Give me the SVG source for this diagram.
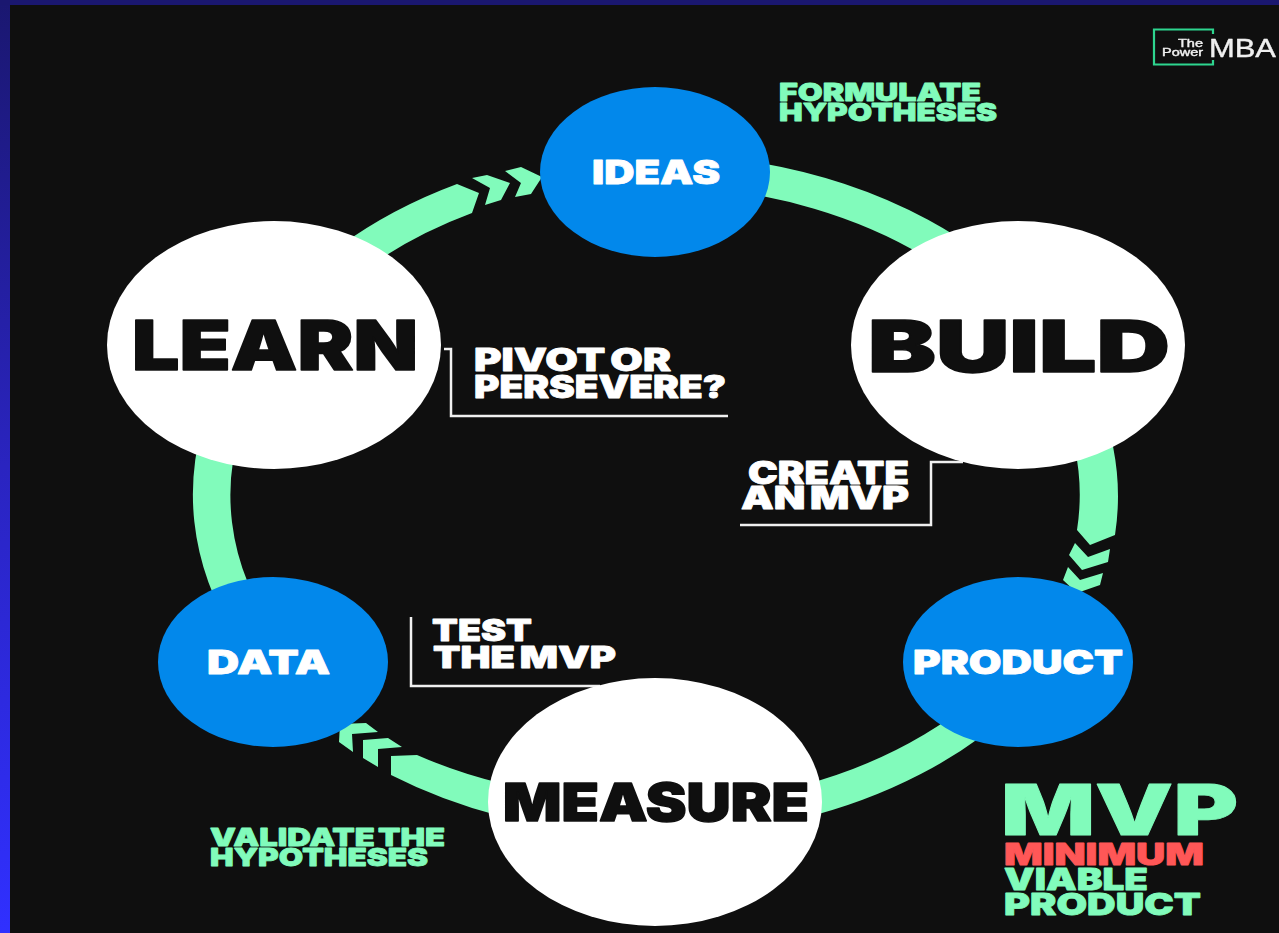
<svg xmlns="http://www.w3.org/2000/svg" width="1279" height="933" viewBox="0 0 1279 933">
<defs>
<linearGradient id="edge" x1="0" y1="0" x2="0" y2="1"><stop offset="0" stop-color="#1a1770"/><stop offset="0.5" stop-color="#2a24c0"/><stop offset="1" stop-color="#3030ff"/></linearGradient>
<filter id="soft" x="-5%" y="-5%" width="110%" height="110%"><feGaussianBlur stdDeviation="0.5"/></filter>
</defs>
<style>
text{font-family:"Inter","Liberation Sans",sans-serif;font-weight:900;stroke-linejoin:round}
.g{fill:#81fbbb;stroke:#81fbbb;stroke-width:.8}
.w{fill:#fff;stroke:#fff;stroke-width:.8}
.k{fill:#0f0f0f;stroke:#0f0f0f;stroke-width:1.5}
.r{fill:#ff5757;stroke:#ff5757;stroke-width:.8}
.tight{word-spacing:-2.5px}
.blue{fill:#0288eb}
.white{fill:#fff}
.seg{fill:#81fbbb}
.rule{fill:none;stroke:#f0f0f0;stroke-width:2.5}
.lg{font-family:"Liberation Sans",sans-serif;font-weight:400;fill:#f0f0f0;stroke:#f0f0f0;stroke-width:.4}
</style>
<rect width="1279" height="933" fill="url(#edge)"/>
<rect x="0" y="0" width="1279" height="5" fill="#1a1770"/>
<rect x="10" y="5" width="1269" height="928" fill="#0f0f0f"/>

<g id="connectors">
<path class="seg" d="M655,154A462,341 0 0 1 1000,268L950,273A425,309 0 0 0 655,186Z"/>
<path class="seg" d="M1099,400A462,341 0 0 1 1115,535L1090,545L1077,530A425,309 0 0 0 1059,400Z"/>
<polygon class="seg" points="1075,543 1088,557 1110,549 1108,562 1082,570 1069,555"/>
<polygon class="seg" points="1068,567 1080,580 1103,573 1100,585 1077,593 1063,580"/>
<path class="seg" d="M1018,706A462,341 0 0 1 800,819L800,786A425,309 0 0 0 1018,656Z"/>
<path class="seg" d="M500,816A462,341 0 0 1 391,775L391,756L417,755A425,309 0 0 0 500,783Z"/>
<polygon class="seg" points="363,740 388,738 402,747 378,749 378,767 363,758"/>
<polygon class="seg" points="340,724 366,723 378,732 352,734 353,752 339,742"/>
<path class="seg" d="M237,640A462,341 0 0 1 211,400L251,400A425,309 0 0 0 280,640Z"/>
<path class="seg" d="M340,246A462,341 0 0 1 457,184L479,193L472,213A425,309 0 0 0 370,266Z"/>
<polygon class="seg" points="472,178 487,175 510,183 501,200 485,205 490,188"/>
<polygon class="seg" points="505,171 521,167 542,177 531,194 515,197 521,183"/>
<path class="rule" d="M963,462H931V525H740"/>
<path class="rule" d="M444,349H451V416H728"/>
<path class="rule" d="M411,617V686H600"/>
</g>

<g id="node-ideas"><ellipse class="blue" cx="655" cy="172" rx="115" ry="85"/><text class="w" x="592" y="184" font-size="33" textLength="128" lengthAdjust="spacingAndGlyphs">IDEAS</text></g>
<g id="node-build"><ellipse class="white" cx="1018" cy="345" rx="167" ry="124"/><text class="k" x="868" y="372" font-size="72" textLength="302" lengthAdjust="spacingAndGlyphs">BUILD</text></g>
<g id="node-product"><ellipse class="blue" cx="1018" cy="662" rx="115" ry="85"/><text class="w" x="913" y="674" font-size="33" textLength="210" lengthAdjust="spacingAndGlyphs">PRODUCT</text></g>
<g id="node-measure"><ellipse class="white" cx="655" cy="802" rx="167" ry="124"/><text class="k" x="503" y="821" font-size="52" textLength="306" lengthAdjust="spacingAndGlyphs">MEASURE</text></g>
<g id="node-data"><ellipse class="blue" cx="273" cy="662" rx="115" ry="85"/><text class="w" x="207" y="674" font-size="33" textLength="123" lengthAdjust="spacingAndGlyphs">DATA</text></g>
<g id="node-learn"><ellipse class="white" cx="274" cy="345" rx="167" ry="124"/><text class="k" x="132" y="370" font-size="69" textLength="286" lengthAdjust="spacingAndGlyphs">LEARN</text></g>

<g id="label-formulate">
<text class="g" x="779" y="101" font-size="25" textLength="202" lengthAdjust="spacingAndGlyphs">FORMULATE</text>
<text class="g" x="779" y="121" font-size="25" textLength="218" lengthAdjust="spacingAndGlyphs">HYPOTHESES</text>
</g>
<g id="label-pivot">
<text class="w tight" x="474" y="371" font-size="31" textLength="197" lengthAdjust="spacingAndGlyphs">PIVOT OR</text>
<text class="w" x="474" y="398" font-size="31" textLength="252" lengthAdjust="spacingAndGlyphs">PERSEVERE?</text>
</g>
<g id="label-create">
<text class="w" x="748" y="484" font-size="31" textLength="161" lengthAdjust="spacingAndGlyphs">CREATE</text>
<text class="w tight" x="741" y="509" font-size="31" textLength="168" lengthAdjust="spacingAndGlyphs">AN MVP</text>
</g>
<g id="label-test">
<text class="w" x="432" y="641" font-size="30" textLength="100" lengthAdjust="spacingAndGlyphs">TEST</text>
<text class="w tight" x="433" y="668" font-size="30" textLength="183" lengthAdjust="spacingAndGlyphs">THE MVP</text>
</g>
<g id="label-validate">
<text class="g tight" x="210" y="846" font-size="25" textLength="235" lengthAdjust="spacingAndGlyphs">VALIDATE THE</text>
<text class="g" x="210" y="866" font-size="25" textLength="218" lengthAdjust="spacingAndGlyphs">HYPOTHESES</text>
</g>
<g id="label-mvp">
<text class="g" x="1001" y="835" font-size="70" textLength="237" lengthAdjust="spacingAndGlyphs">MVP</text>
<text class="r" x="1004" y="865" font-size="30" textLength="200" lengthAdjust="spacingAndGlyphs">MINIMUM</text>
<text class="g" x="1004" y="890" font-size="30" textLength="144" lengthAdjust="spacingAndGlyphs">VIABLE</text>
<text class="g" x="1004" y="915" font-size="30" textLength="197" lengthAdjust="spacingAndGlyphs">PRODUCT</text>
</g>
<g id="logo" filter="url(#soft)">
<path d="M1213,34V29.500H1154V64.500H1213V60" fill="none" stroke="#2ed58f" stroke-width="2.200"/>
<text class="lg" x="1178" y="47" font-size="10.500" textLength="25" lengthAdjust="spacingAndGlyphs">The</text>
<text class="lg" x="1162" y="56" font-size="10.500" textLength="41" lengthAdjust="spacingAndGlyphs">Power</text>
<text class="lg" x="1209" y="57" font-size="25" textLength="67" lengthAdjust="spacingAndGlyphs">MBA</text>
</g>
</svg>
